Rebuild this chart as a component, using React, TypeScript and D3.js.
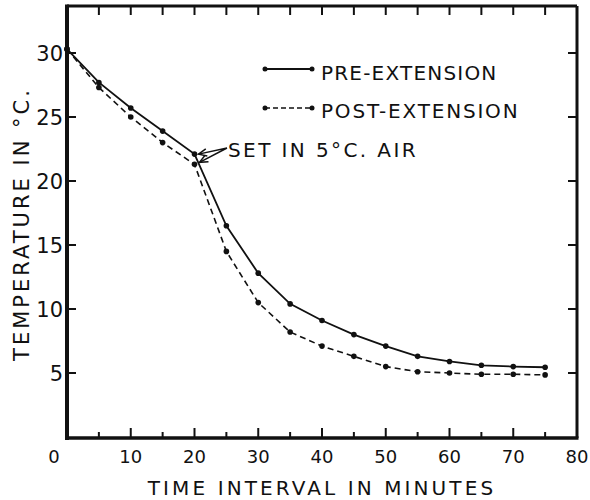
import React from "react";
import * as d3 from "d3";

const minutes = [0, 5, 10, 15, 20, 25, 30, 35, 40, 45, 50, 55, 60, 65, 70, 75];
const preExtension = [30.3, 27.7, 25.7, 23.9, 22.1, 16.5, 12.8, 10.4, 9.1, 8.0, 7.1, 6.3, 5.9, 5.6, 5.5, 5.45];
const postExtension = [30.3, 27.3, 25.0, 23.0, 21.3, 14.5, 10.5, 8.2, 7.1, 6.3, 5.5, 5.1, 5.0, 4.9, 4.9, 4.85];
const xTickLabels = [0, 10, 20, 30, 40, 50, 60, 70, 80];
const yTickLabels = [5, 10, 15, 20, 25, 30];
const minorXTicks = [5, 15, 25, 35, 45, 55, 65, 75];
const topTicks = [5, 10, 15, 20, 25, 30, 35, 40, 45, 50, 55, 60, 65, 70, 75];
const seriesNames = ["PRE-EXTENSION", "POST-EXTENSION"];
const annotation = "SET IN 5°C. AIR";
const annotationMinute = 20;

const FONT = "'DejaVu Sans', 'Liberation Sans', sans-serif";
const INK = "#111";

export default function App() {
  const W = 590, H = 500;
  const left = 67, right = 577, top = 6, bottom = 438;
  const x = d3.scaleLinear().domain([0, 80]).range([left, right]);
  const y = d3.scaleLinear().domain([0, 30]).range([437, 53]);

  const line = d3
    .line<number>()
    .x((_, i) => x(minutes[i]))
    .y((d) => y(d));

  const ai = minutes.indexOf(annotationMinute);
  const tipPre: [number, number] = [x(annotationMinute) + 4, y(preExtension[ai])];
  const tipPost: [number, number] = [x(annotationMinute) + 5, y(postExtension[ai]) - 2];
  const apex: [number, number] = [227, 148];

  const arrowHead = (tip: [number, number], from: [number, number]) => {
    const ang = Math.atan2(from[1] - tip[1], from[0] - tip[0]);
    const L = 9, s = 0.42;
    const p1 = [tip[0] + L * Math.cos(ang + s), tip[1] + L * Math.sin(ang + s)];
    const p2 = [tip[0] + L * Math.cos(ang - s), tip[1] + L * Math.sin(ang - s)];
    return `M${p1[0]},${p1[1]}L${tip[0]},${tip[1]}L${p2[0]},${p2[1]}`;
  };

  return (
    <svg
      width={W}
      height={H}
      style={{ position: "absolute", left: 0, top: 0, background: "#fff" }}
      fontFamily={FONT}
    >
      {/* frame */}
      <line x1={left} y1={top} x2={right} y2={top} stroke={INK} strokeWidth={3} />
      <line x1={right} y1={top} x2={right} y2={bottom} stroke={INK} strokeWidth={3} />
      <line x1={left} y1={top - 1.5} x2={left} y2={bottom + 2} stroke={INK} strokeWidth={4} />
      <line x1={left} y1={bottom} x2={right + 1.5} y2={bottom} stroke={INK} strokeWidth={3.5} />

      {/* top ticks */}
      {topTicks.map((t) => (
        <line key={"tt" + t} x1={x(t)} x2={x(t)} y1={top} y2={top + 9} stroke={INK} strokeWidth={2} />
      ))}
      {/* bottom ticks */}
      {xTickLabels.filter((t) => t > 0 && t < 80).map((t) => (
        <line key={"bt" + t} x1={x(t)} x2={x(t)} y1={bottom} y2={bottom - 10} stroke={INK} strokeWidth={2} />
      ))}
      {minorXTicks.map((t) => (
        <line key={"bm" + t} x1={x(t)} x2={x(t)} y1={bottom} y2={bottom - 6} stroke={INK} strokeWidth={2} />
      ))}
      {/* left and right ticks */}
      {yTickLabels.map((v) => (
        <g key={"yt" + v}>
          <line x1={left} x2={left + 9} y1={y(v)} y2={y(v)} stroke={INK} strokeWidth={2} />
          <line x1={right} x2={right - 9} y1={y(v)} y2={y(v)} stroke={INK} strokeWidth={2} />
          <text x={left - 4} y={y(v)} dy="0.36em" textAnchor="end" fontSize={21} fill={INK}>
            {v}
          </text>
        </g>
      ))}
      {/* x tick labels */}
      {xTickLabels.map((t) => (
        <text
          key={"xl" + t}
          x={t === 0 ? x(t) - 13 : x(t)}
          y={463}
          textAnchor="middle"
          fontSize={18}
          fill={INK}
        >
          {t}
        </text>
      ))}

      {/* axis titles */}
      <text x={322} y={495} textAnchor="middle" fontSize={20} letterSpacing={3.1} fill={INK}>
        TIME INTERVAL IN MINUTES
      </text>
      <text
        transform={`translate(29,224) rotate(-90)`}
        textAnchor="middle"
        fontSize={21}
        letterSpacing={3.0}
        fill={INK}
      >
        TEMPERATURE IN °C.
      </text>

      {/* series */}
      <path d={line(preExtension) || ""} fill="none" stroke={INK} strokeWidth={1.8} />
      <path d={line(postExtension) || ""} fill="none" stroke={INK} strokeWidth={1.6} strokeDasharray="6,4" />
      {preExtension.map((v, i) => (
        <circle key={"pp" + i} cx={x(minutes[i])} cy={y(v)} r={2.8} fill={INK} />
      ))}
      {postExtension.map((v, i) => (
        <circle key={"qp" + i} cx={x(minutes[i])} cy={y(v)} r={2.8} fill={INK} />
      ))}

      {/* legend */}
      <line x1={265} x2={312} y1={69} y2={69} stroke={INK} strokeWidth={1.8} />
      <circle cx={265} cy={69} r={2.5} fill={INK} />
      <circle cx={312} cy={69} r={2.5} fill={INK} />
      <text x={321} y={80} fontSize={20} letterSpacing={1.2} fill={INK}>
        {seriesNames[0]}
      </text>
      <line x1={265} x2={312} y1={108} y2={108} stroke={INK} strokeWidth={1.6} strokeDasharray="5,3" />
      <circle cx={265} cy={108} r={2.5} fill={INK} />
      <circle cx={312} cy={108} r={2.5} fill={INK} />
      <text x={321} y={118} fontSize={20} letterSpacing={1.8} fill={INK}>
        {seriesNames[1]}
      </text>

      {/* annotation */}
      <path d={`M${apex[0]},${apex[1]}L${tipPre[0]},${tipPre[1]}M${apex[0]},${apex[1]}L${tipPost[0]},${tipPost[1]}`} stroke={INK} strokeWidth={1.5} fill="none" />
      <path d={arrowHead(tipPre, apex)} stroke={INK} strokeWidth={1.5} fill="none" />
      <path d={arrowHead(tipPost, apex)} stroke={INK} strokeWidth={1.5} fill="none" />
      <text x={228} y={157} fontSize={20} letterSpacing={2.4} fill={INK}>
        {annotation}
      </text>
    </svg>
  );
}
